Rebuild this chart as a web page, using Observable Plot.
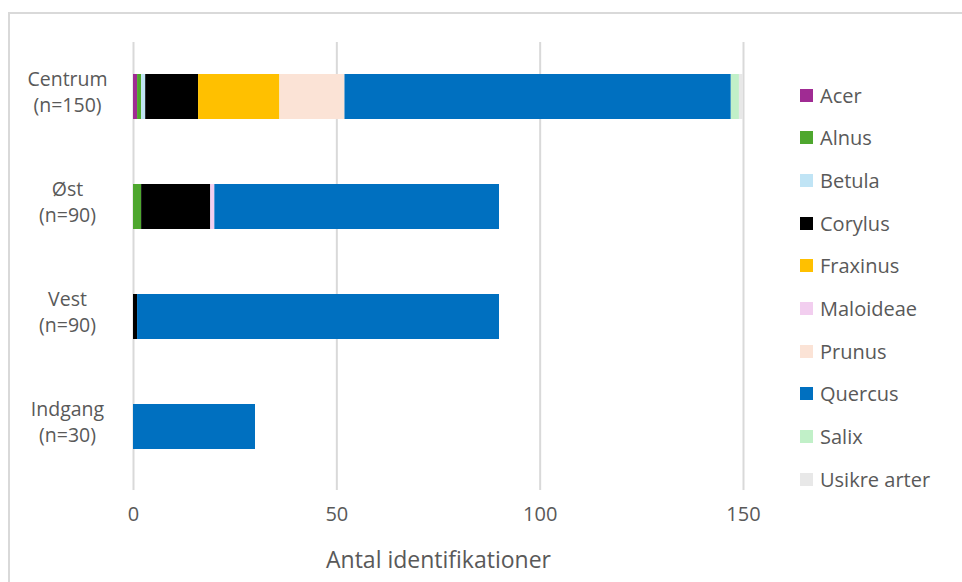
<!DOCTYPE html>
<html>
<head>
<meta charset="utf-8">
<script src="https://cdn.jsdelivr.net/npm/d3@7"></script>
<script src="https://cdn.jsdelivr.net/npm/@observablehq/plot@0.6"></script>
<style>
  html, body { margin: 0; padding: 0; background: #fff; }
  #wrap { position: relative; width: 962px; height: 582px; overflow: hidden; font-family: "Open Sans", sans-serif; }
  #frame { position: absolute; left: 8px; top: 12px; width: 2000px; height: 2000px; border-left: 2px solid #d9d9d9; border-top: 2px solid #d9d9d9; }
  #chart { position: absolute; left: 0; top: 0; }
  #legend { position: absolute; left: 800px; top: 0; }
  .li { position: absolute; left: 0; height: 22px; display: flex; align-items: center; white-space: nowrap; color: #595959; font-size: 20px; }
  .sw { width: 13px; height: 13px; margin-right: 7px; flex: none; }
</style>
</head>
<body>
<div id="wrap"><div id="frame"></div><div id="chart"></div><div id="legend"></div></div>
<script>
const regions = ["Centrum", "Øst", "Vest", "Indgang"];
const regionNames = ["Centrum", "Øst", "Vest", "Indgang"];
const regionN = ["(n=150)", "(n=90)", "(n=90)", "(n=30)"];
const species = ["Acer", "Alnus", "Betula", "Corylus", "Fraxinus", "Maloideae", "Prunus", "Quercus", "Salix", "Usikre arter"];
const colors = ["#A02B93", "#4EA72E", "#C0E4F5", "#000000", "#FFC000", "#F2CEEF", "#FBE3D6", "#0070C0", "#C1F0C8", "#E8E8E8"];
// counts per species, in region order: Centrum, Øst, Vest, Indgang
const acer      = [1, 0, 0, 0];
const alnus     = [1, 2, 0, 0];
const betula    = [1, 0, 0, 0];
const corylus   = [13, 17, 1, 0];
const fraxinus  = [20, 0, 0, 0];
const maloideae = [0, 1, 0, 0];
const prunus    = [16, 0, 0, 0];
const quercus   = [95, 70, 89, 30];
const salix     = [2, 0, 0, 0];
const usikre    = [1, 0, 0, 0];
const xTicks = [0, 50, 100, 150];

const series = [acer, alnus, betula, corylus, fraxinus, maloideae, prunus, quercus, salix, usikre];
const data = [];
species.forEach((s, i) => regions.forEach((r, j) => data.push({region: r, species: s, count: series[i][j]})));
const labelRows = regions.map((r, i) => ({region: r, name: regionNames[i], n: regionN[i]}));

const plot = Plot.plot({
  width: 962,
  height: 582,
  marginLeft: 133,
  marginRight: 219,
  marginTop: 42,
  marginBottom: 100,
  style: {fontFamily: "'Open Sans', sans-serif", fontSize: "20px", color: "#595959", background: "transparent"},
  x: {domain: [0, 150], ticks: xTicks, label: null},
  y: {domain: regions, paddingInner: 0.59, paddingOuter: 0.295, label: null, axis: null},
  color: {domain: species, range: colors},
  marks: [
    Plot.ruleX(xTicks, {stroke: "#d9d9d9", strokeWidth: 2, insetBottom: -8}),
    Plot.barX(data, Plot.stackX({x: "count", y: "region", fill: "species", order: species})),
    Plot.axisX({ticks: xTicks, tickSize: 0, tickPadding: 24, label: null, fill: "#595959", fontSize: "20px"}),
    Plot.text(labelRows, {y: "region", text: "name", frameAnchor: "left", dx: -66, dy: -17, textAnchor: "middle", fill: "#595959", fontSize: "19.5px"}),
    Plot.text(labelRows, {y: "region", text: "n", frameAnchor: "left", dx: -66, dy: 9, textAnchor: "middle", fill: "#595959", fontSize: "19.5px"}),
    Plot.text(["Antal identifikationer"], {frameAnchor: "bottom", dy: 85, fill: "#595959", fontSize: "23px"})
  ]
});
document.getElementById("chart").appendChild(plot);

const legend = document.getElementById("legend");
species.forEach((s, i) => {
  const d = document.createElement("div");
  d.className = "li";
  d.style.top = (95 + i * 42.7 - 11) + "px";
  d.innerHTML = `<span class="sw" style="background:${colors[i]}"></span><span>${s}</span>`;
  legend.appendChild(d);
});
</script>
</body>
</html>
